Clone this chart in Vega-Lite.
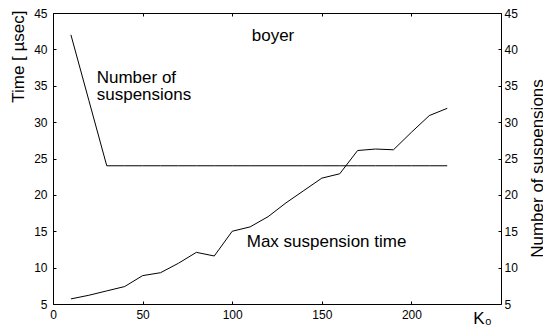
{
  "$schema": "https://vega.github.io/schema/vega-lite/v6.json",
  "autosize": {"type": "none"},
  "width": 448,
  "height": 291,
  "padding": {"left": 53, "top": 13, "right": 42, "bottom": 21},
  "background": "white",
  "config": {
    "view": {"stroke": null},
    "font": "Liberation Sans",
    "axis": {
      "labelFont": "Liberation Sans",
      "titleFont": "Liberation Sans",
      "labelFontSize": 12,
      "labelColor": "black",
      "titleColor": "black",
      "titleFontWeight": "normal",
      "titleFontSize": 17,
      "domainColor": "black",
      "tickColor": "black",
      "grid": false,
      "labelOverlap": false,
      "labelFlush": false
    }
  },
  "datasets": {
    "series": [
      {"series": "time", "k": 10, "v": 5.7},
      {"series": "time", "k": 20, "v": 6.2},
      {"series": "time", "k": 30, "v": 6.8},
      {"series": "time", "k": 40, "v": 7.4},
      {"series": "time", "k": 50, "v": 8.9},
      {"series": "time", "k": 60, "v": 9.3},
      {"series": "time", "k": 70, "v": 10.6},
      {"series": "time", "k": 80, "v": 12.1},
      {"series": "time", "k": 90, "v": 11.6},
      {"series": "time", "k": 100, "v": 15.0},
      {"series": "time", "k": 110, "v": 15.6},
      {"series": "time", "k": 120, "v": 17.0},
      {"series": "time", "k": 130, "v": 18.9},
      {"series": "time", "k": 140, "v": 20.6},
      {"series": "time", "k": 150, "v": 22.3},
      {"series": "time", "k": 160, "v": 22.9},
      {"series": "time", "k": 170, "v": 26.1},
      {"series": "time", "k": 180, "v": 26.3},
      {"series": "time", "k": 190, "v": 26.2},
      {"series": "time", "k": 200, "v": 28.6},
      {"series": "time", "k": 210, "v": 30.9},
      {"series": "time", "k": 220, "v": 31.9},
      {"series": "susp", "k": 10, "v": 42.0},
      {"series": "susp", "k": 20, "v": 33.0},
      {"series": "susp", "k": 30, "v": 24.0},
      {"series": "susp", "k": 40, "v": 24.0},
      {"series": "susp", "k": 50, "v": 24.0},
      {"series": "susp", "k": 60, "v": 24.0},
      {"series": "susp", "k": 70, "v": 24.0},
      {"series": "susp", "k": 80, "v": 24.0},
      {"series": "susp", "k": 90, "v": 24.0},
      {"series": "susp", "k": 100, "v": 24.0},
      {"series": "susp", "k": 110, "v": 24.0},
      {"series": "susp", "k": 120, "v": 24.0},
      {"series": "susp", "k": 130, "v": 24.0},
      {"series": "susp", "k": 140, "v": 24.0},
      {"series": "susp", "k": 150, "v": 24.0},
      {"series": "susp", "k": 160, "v": 24.0},
      {"series": "susp", "k": 170, "v": 24.0},
      {"series": "susp", "k": 180, "v": 24.0},
      {"series": "susp", "k": 190, "v": 24.0},
      {"series": "susp", "k": 200, "v": 24.0},
      {"series": "susp", "k": 210, "v": 24.0},
      {"series": "susp", "k": 220, "v": 24.0}
    ],
    "notes": [
      {"label": "boyer", "k": 110.9, "v": 41.2},
      {"label": "Number of", "k": 24.4, "v": 35.34},
      {"label": "suspensions", "k": 24.4, "v": 33.04},
      {"label": "Max suspension time", "k": 108.1, "v": 12.8}
    ]
  },
  "layer": [
    {
      "data": {"name": "series"},
      "transform": [{"filter": "datum.series === 'time'"}],
      "mark": {"type": "line", "color": "black", "strokeWidth": 1},
      "encoding": {
        "x": {
          "field": "k", "type": "quantitative",
          "scale": {"domain": [0, 250], "nice": false, "zero": false},
          "axis": {
            "orient": "bottom",
            "values": [0, 50, 100, 150, 200],
            "tickSize": -3,
            "labelPadding": 8,
            "title": "K₀",
            "titleFontSize": 17,
            "titleX": 429,
            "titleY": 19,
            "titleAlign": "center",
            "titleBaseline": "alphabetic",
            "titleAngle": 0
          }
        },
        "y": {
          "field": "v", "type": "quantitative",
          "scale": {"domain": [5, 45], "nice": false, "zero": false},
          "axis": {
            "orient": "left",
            "values": [5, 10, 15, 20, 25, 30, 35, 40, 45],
            "tickSize": -3,
            "labelPadding": 9,
            "title": "Time [ µsec]",
            "titleAngle": 270,
            "titleX": -30,
            "titleY": -3,
            "titleAlign": "right",
            "titleBaseline": "alphabetic"
          }
        }
      }
    },
    {
      "data": {"name": "series"},
      "transform": [{"filter": "datum.series === 'susp'"}],
      "mark": {"type": "line", "color": "black", "strokeWidth": 1},
      "encoding": {
        "x": {
          "field": "k", "type": "quantitative",
          "scale": {"domain": [0, 250], "nice": false, "zero": false},
          "axis": {
            "orient": "top",
            "values": [0, 50, 100, 150, 200],
            "tickSize": -3,
            "labels": false,
            "title": null
          }
        },
        "y": {
          "field": "v", "type": "quantitative",
          "scale": {"domain": [5, 45], "nice": false, "zero": false},
          "axis": {
            "orient": "right",
            "values": [5, 10, 15, 20, 25, 30, 35, 40, 45],
            "tickSize": -3,
            "labelPadding": 6,
            "title": "Number of suspensions",
            "titleAngle": 270,
            "titleX": 41,
            "titleY": 155,
            "titleAlign": "center",
            "titleBaseline": "alphabetic"
          }
        }
      }
    },
    {
      "data": {"name": "notes"},
      "mark": {"type": "text", "align": "left", "baseline": "alphabetic", "fontSize": 17, "font": "Liberation Sans", "color": "black"},
      "encoding": {
        "x": {"field": "k", "type": "quantitative", "scale": {"domain": [0, 250], "nice": false, "zero": false}, "axis": null},
        "y": {"field": "v", "type": "quantitative", "scale": {"domain": [5, 45], "nice": false, "zero": false}, "axis": null},
        "text": {"field": "label", "type": "nominal"}
      }
    }
  ],
  "resolve": {
    "scale": {"y": "independent"},
    "axis": {"x": "independent", "y": "independent"}
  }
}
